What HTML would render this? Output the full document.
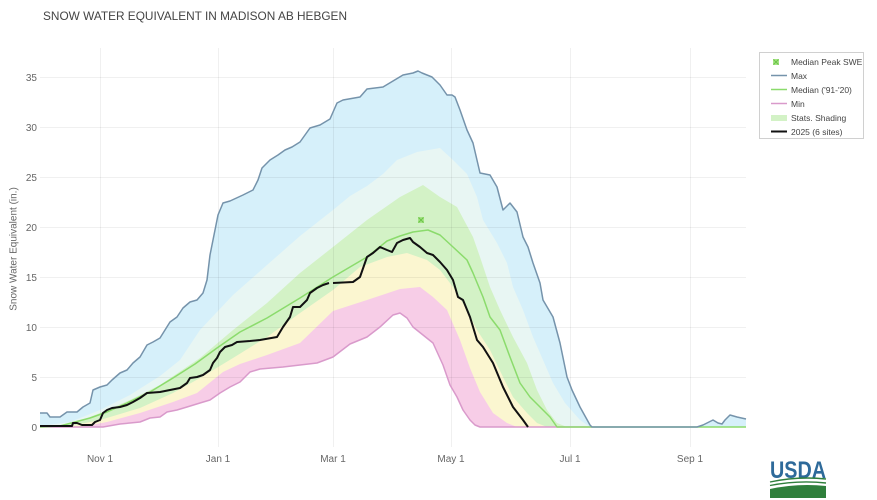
<!DOCTYPE html>
<html>
<head>
<meta charset="utf-8">
<style>
  html,body{margin:0;padding:0;background:#fff;}
  svg{display:block;}
  text{font-family:"Liberation Sans", sans-serif;}
</style>
</head>
<body>
<svg width="877" height="500" viewBox="0 0 877 500" xmlns="http://www.w3.org/2000/svg">
  <rect width="877" height="500" fill="#ffffff"/>

  <!-- Title -->
  <text x="43" y="20" font-size="12" fill="#444" textLength="304" lengthAdjust="spacingAndGlyphs">SNOW WATER EQUIVALENT IN MADISON AB HEBGEN</text>

  <!-- Blue (max) fill -->
  <path fill="#d6f0fa" d="M40,413 L47,413 L50,417 L60,417 L67,412 L77,412 L83,407 L90,403 L93,390 L100,387 L107,385 L112,380 L120,373 L127,370 L133,363 L140,357 L147,345 L153,342 L160,338 L165,330 L170,322 L177,317 L183,308 L190,302 L197,300 L203,293 L207,280 L210,255 L214,235 L218,215 L223,203 L230,201 L243,195 L253,190 L258,180 L262,168 L270,160 L278,155 L285,150 L292,147 L300,142 L310,128 L320,125 L330,119 L337,103 L343,100 L360,97 L367,89 L383,87 L393,81 L403,75 L413,73 L418,71 L422,73 L432,77 L440,85 L447,95 L452,95 L455,97 L460,110 L467,130 L473,143 L480,173 L490,175 L497,187 L503,210 L510,203 L517,212 L523,237 L528,247 L533,263 L540,283 L543,300 L553,317 L560,343 L567,377 L572,390 L580,407 L590,425 L592,427 L697,427 L703,425 L713,420 L718,423 L722,424 L725,420 L730,415 L737,417 L746,419 L746,427 L40,427 Z"/>

  <!-- Teal band -->
  <path fill="#e8f6f3" d="M40,426 L70,422 L100,410 L130,395 L160,376 L180,360 L200,330 L233,295 L267,265 L300,236 L333,210 L350,196 L367,186 L383,174 L397,160 L417,152 L440,148 L453,160 L467,174 L477,197 L483,220 L497,243 L507,263 L513,287 L523,310 L533,337 L543,360 L553,383 L565,403 L580,420 L590,427 Z"/>

  <!-- Green band -->
  <path fill="#d3f2c6" d="M40,427 L60,425 L80,421 L100,413 L130,400 L160,385 L200,358 L233,330 L267,303 L300,273 L333,247 L367,220 L400,197 L423,185 L440,197 L457,207 L473,237 L480,257 L490,287 L500,310 L513,337 L527,363 L537,390 L547,410 L557,423 L567,427 Z"/>

  <!-- Yellow band -->
  <path fill="#fbf6d0" d="M40,427 L70,426 L100,420 L140,408 L173,393 L200,378 L233,358 L267,337 L300,313 L333,290 L360,267 L387,257 L407,253 L427,260 L440,270 L453,287 L467,310 L477,330 L490,350 L503,377 L513,397 L527,413 L537,423 L547,427 Z"/>

  <!-- Pink band -->
  <path fill="#f7cde7" d="M40,427 L80,427 L107,422 L140,413 L173,402 L197,393 L223,372 L240,364 L267,355 L300,343 L333,311 L367,300 L400,289 L420,287 L433,297 L447,310 L460,340 L470,368 L480,392 L493,413 L507,423 L517,427 Z"/>

  <!-- White below min -->
  <path fill="#ffffff" d="M103,427 L120,424 L130,423 L140,422 L150,418 L160,417 L167,412 L177,410 L187,407 L200,403 L210,400 L220,393 L230,387 L240,382 L250,372 L260,369 L283,367 L317,363 L333,357 L350,344 L367,337 L380,327 L393,315 L400,313 L407,318 L413,327 L423,335 L433,343 L443,365 L450,385 L457,397 L463,410 L470,420 L475,425 L480,427 Z"/>

  <!-- Gridlines -->
  <g stroke="#000" stroke-opacity="0.06" stroke-width="1">
    <line x1="40" y1="377.5" x2="746" y2="377.5"/>
    <line x1="40" y1="327.5" x2="746" y2="327.5"/>
    <line x1="40" y1="277.5" x2="746" y2="277.5"/>
    <line x1="40" y1="227.5" x2="746" y2="227.5"/>
    <line x1="40" y1="177.5" x2="746" y2="177.5"/>
    <line x1="40" y1="127.5" x2="746" y2="127.5"/>
    <line x1="40" y1="77.5" x2="746" y2="77.5"/>
    <line x1="100.5" y1="48" x2="100.5" y2="447"/>
    <line x1="218.5" y1="48" x2="218.5" y2="447"/>
    <line x1="333.5" y1="48" x2="333.5" y2="447"/>
    <line x1="451.5" y1="48" x2="451.5" y2="447"/>
    <line x1="570.5" y1="48" x2="570.5" y2="447"/>
    <line x1="690.5" y1="48" x2="690.5" y2="447"/>
  </g>

  <!-- Min line -->
  <path fill="none" stroke="#d99acb" stroke-width="1.5" stroke-linejoin="round" d="M40,427 L103,427 L120,424 L130,423 L140,422 L150,418 L160,417 L167,412 L177,410 L187,407 L200,403 L210,400 L220,393 L230,387 L240,382 L250,372 L260,369 L283,367 L317,363 L333,357 L350,344 L367,337 L380,327 L393,315 L400,313 L407,318 L413,327 L423,335 L433,343 L443,365 L450,385 L457,397 L463,410 L470,420 L475,425 L480,427 L592,427"/>

  <!-- Median line -->
  <path fill="none" stroke="#8bdb6c" stroke-width="1.5" stroke-linejoin="round" d="M40,427 L60,426 L75,422 L90,418 L107,412 L127,403 L150,392 L173,378 L195,364 L217,348 L240,332 L267,318 L300,298 L333,277 L367,257 L387,241 L400,236 L413,232 L428,230 L440,235 L453,247 L467,260 L473,273 L483,297 L490,317 L500,330 L510,357 L520,383 L530,397 L540,407 L550,417 L557,427 L746,427"/>

  <!-- Max line -->
  <path fill="none" stroke="#7593ab" stroke-width="1.5" stroke-linejoin="round" d="M40,413 L47,413 L50,417 L60,417 L67,412 L77,412 L83,407 L90,403 L93,390 L100,387 L107,385 L112,380 L120,373 L127,370 L133,363 L140,357 L147,345 L153,342 L160,338 L165,330 L170,322 L177,317 L183,308 L190,302 L197,300 L203,293 L207,280 L210,255 L214,235 L218,215 L223,203 L230,201 L243,195 L253,190 L258,180 L262,168 L270,160 L278,155 L285,150 L292,147 L300,142 L310,128 L320,125 L330,119 L337,103 L343,100 L360,97 L367,89 L383,87 L393,81 L403,75 L413,73 L418,71 L422,73 L432,77 L440,85 L447,95 L452,95 L455,97 L460,110 L467,130 L473,143 L480,173 L490,175 L497,187 L503,210 L510,203 L517,212 L523,237 L528,247 L533,263 L540,283 L543,300 L553,317 L560,343 L567,377 L572,390 L580,407 L590,425 L592,427 L697,427 L703,425 L713,420 L718,423 L722,424 L725,420 L730,415 L737,417 L746,419"/>

  <!-- 2025 line -->
  <path fill="none" stroke="#111" stroke-width="2" stroke-linejoin="round" d="M40,426 L72,426 L73,423 L77,423 L82,425 L92,425 L95,422 L100,420 L103,413 L107,410 L112,408 L120,407 L127,405 L133,402 L140,398 L147,393 L160,392 L170,390 L180,388 L187,383 L190,378 L197,377 L203,375 L210,370 L213,363 L217,358 L220,352 L225,347 L232,345 L237,342 L250,341 L260,340 L277,337 L283,327 L290,317 L293,307 L300,307 L307,300 L310,293 L317,288 L323,285 L329,283 M333,283 L353,282 L360,277 L367,257 L373,253 L380,247 L387,250 L392,252 L397,243 L403,240 L410,238 L413,242 L420,247 L427,253 L433,255 L440,262 L447,270 L453,280 L458,297 L463,300 L470,317 L477,340 L483,347 L493,363 L503,387 L513,407 L523,420 L528,427"/>

  <!-- Median peak marker -->
  <g>
    <rect x="418" y="217" width="6" height="6" fill="#a6e486"/>
    <path d="M418.5,217.5 L423.5,222.5 M423.5,217.5 L418.5,222.5" stroke="#6cc448" stroke-width="1.2"/>
  </g>

  <!-- Y tick labels -->
  <g font-size="10" fill="#666" text-anchor="end">
    <text x="37" y="431">0</text>
    <text x="37" y="381">5</text>
    <text x="37" y="331">10</text>
    <text x="37" y="281">15</text>
    <text x="37" y="231">20</text>
    <text x="37" y="181">25</text>
    <text x="37" y="131">30</text>
    <text x="37" y="81">35</text>
  </g>
  <text x="0" y="0" font-size="10" fill="#666" text-anchor="middle" transform="translate(16.5,249) rotate(-90)">Snow Water Equivalent (in.)</text>

  <!-- X tick labels -->
  <g font-size="10" fill="#666" text-anchor="middle">
    <text x="100" y="462">Nov 1</text>
    <text x="218" y="462">Jan 1</text>
    <text x="333" y="462">Mar 1</text>
    <text x="451" y="462">May 1</text>
    <text x="570" y="462">Jul 1</text>
    <text x="690" y="462">Sep 1</text>
  </g>

  <!-- Legend -->
  <rect x="759.5" y="52.5" width="104" height="86" fill="#fff" stroke="#d0d0d0" stroke-width="1"/>
  <g font-size="8.5" fill="#444">
    <rect x="773" y="59" width="6" height="6" fill="#a6e486"/>
    <path d="M773.5,59.5 L778.5,64.5 M778.5,59.5 L773.5,64.5" stroke="#6cc448" stroke-width="1.1"/>
    <text x="791" y="65">Median Peak SWE</text>

    <line x1="771" y1="75.5" x2="787" y2="75.5" stroke="#7593ab" stroke-width="1.5"/>
    <text x="791" y="79">Max</text>

    <line x1="771" y1="89.5" x2="787" y2="89.5" stroke="#8bdb6c" stroke-width="1.5"/>
    <text x="791" y="93">Median ('91-'20)</text>

    <line x1="771" y1="103.5" x2="787" y2="103.5" stroke="#d99acb" stroke-width="1.5"/>
    <text x="791" y="107">Min</text>

    <rect x="771" y="115" width="16" height="6" fill="#d3f2c6"/>
    <text x="791" y="121">Stats. Shading</text>

    <line x1="771" y1="131.5" x2="787" y2="131.5" stroke="#111" stroke-width="2"/>
    <text x="791" y="135">2025 (6 sites)</text>
  </g>

  <!-- USDA logo -->
  <g>
    <text x="770" y="478" font-family="Liberation Serif, serif" font-size="24" font-weight="bold" fill="#2e6a9a" textLength="56" lengthAdjust="spacingAndGlyphs">USDA</text>
    <path d="M770,482 Q798,476 826,479" fill="none" stroke="#2f7f3c" stroke-width="1.4"/>
    <path d="M770,485.5 Q798,480 826,483" fill="none" stroke="#2f7f3c" stroke-width="1.4"/>
    <path d="M770,489 Q798,483 826,486 L826,498 L770,498 Z" fill="#2f7f3c"/>
  </g>
</svg>
</body>
</html>
